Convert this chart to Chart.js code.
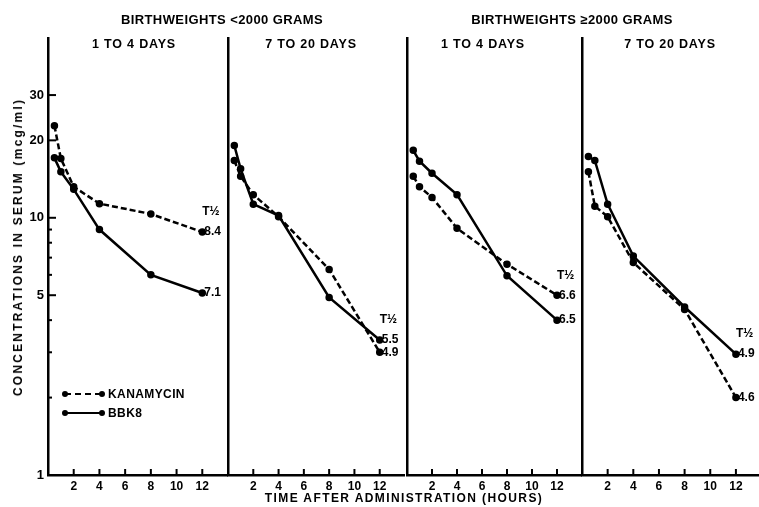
<!DOCTYPE html>
<html>
<head>
<meta charset="utf-8">
<script src="https://cdn.jsdelivr.net/npm/chart.js@4.4.1/dist/chart.umd.min.js"></script>
<style>
  html, body { margin: 0; padding: 0; background: #fff; }
  body { width: 759px; height: 507px; position: relative; overflow: hidden;
         font-family: "Liberation Sans", Arial, sans-serif; font-weight: bold; color: #000; }
  canvas { position: absolute; top: 0; }
  .lbl { position: absolute; white-space: nowrap; transform: translateX(-50%); line-height: 1; }
  .grp { font-size: 13px; top: 13px; letter-spacing: 0.4px; }
  .sub { font-size: 12.5px; top: 38px; letter-spacing: 0.8px; }
  .ytitle { position: absolute; left: 18px; top: 247px; font-size: 12px; letter-spacing: 2.2px;
            white-space: nowrap; transform: translate(-50%, -50%) rotate(-90deg); }
  .xtitle { font-size: 12px; top: 492px; letter-spacing: 1.4px; }
  .leg { position: absolute; left: 62px; height: 14px; font-size: 12px; letter-spacing: 0.4px; }
  .leg .ln { position: absolute; left: 3px; top: 6px; width: 36px; border-top: 2.5px solid #000; }
  .leg .ln.dash { border-top-style: dashed; }
  .leg .dot { position: absolute; top: 4px; width: 6px; height: 6px; border-radius: 50%; background: #000; }
  .leg span.t { position: absolute; left: 46px; top: 0; }
</style>
</head>
<body>
<canvas id="p1"></canvas>
<canvas id="p2"></canvas>
<canvas id="p3"></canvas>
<canvas id="p4"></canvas>

<div class="lbl grp" style="left:222px">BIRTHWEIGHTS &lt;2000 GRAMS</div>
<div class="lbl grp" style="left:572px">BIRTHWEIGHTS ≥2000 GRAMS</div>
<div class="lbl sub" style="left:134px">1 TO 4 DAYS</div>
<div class="lbl sub" style="left:311px">7 TO 20 DAYS</div>
<div class="lbl sub" style="left:483px">1 TO 4 DAYS</div>
<div class="lbl sub" style="left:670px">7 TO 20 DAYS</div>
<div class="ytitle">CONCENTRATIONS IN SERUM (mcg/ml)</div>
<div class="lbl xtitle" style="left:404px">TIME AFTER ADMINISTRATION (HOURS)</div>

<div class="leg" style="top:387px">
  <div class="ln dash"></div><div class="dot" style="left:0"></div><div class="dot" style="left:37px"></div>
  <span class="t">KANAMYCIN</span>
</div>
<div class="leg" style="top:406px">
  <div class="ln"></div><div class="dot" style="left:0"></div><div class="dot" style="left:37px"></div>
  <span class="t">BBK8</span>
</div>

<script>
// hours after administration (same sampling in every panel)
const hours = [0.5, 1, 2, 4, 8, 12];

// serum concentrations, mcg/ml  (panels: <2000g 1-4d, <2000g 7-20d, >=2000g 1-4d, >=2000g 7-20d)
const kanamycin1 = [22.8, 17.0, 13.2, 11.35, 10.35, 8.8];
const kanamycin2 = [16.7, 14.5, 12.3, 10.1, 6.3, 3.0];
const kanamycin3 = [14.5, 13.2, 12.0, 9.1, 6.6, 5.0];
const kanamycin4 = [15.1, 11.1, 10.1, 6.7, 4.4, 2.0];

const bbk8_1 = [17.1, 15.1, 12.9, 9.0, 6.0, 5.1];
const bbk8_2 = [19.1, 15.5, 11.3, 10.2, 4.9, 3.35];
const bbk8_3 = [18.3, 16.6, 14.9, 12.3, 5.95, 4.0];
const bbk8_4 = [17.3, 16.7, 11.3, 7.1, 4.5, 2.95];

// half-life labels at the end of each curve [kanamycin, bbk8]
const halfLife1 = ['8.4', '7.1'];
const halfLife2 = ['4.9', '5.5'];
const halfLife3 = ['6.6', '6.5'];
const halfLife4 = ['4.6', '4.9'];

const xTicks = [2, 4, 6, 8, 10, 12];
const yTicks = [1, 2, 3, 4, 5, 6, 7, 8, 9, 10, 20, 30];
const yLabels = [1, 5, 10, 20, 30];

const FONT = '"Liberation Sans", Arial, sans-serif';

// tick marks pointing into the plot, like the original
const innerTicks = {
    id: 'innerTicks',
    afterDraw(chart, args, opts) {
        const ctx = chart.ctx, area = chart.chartArea;
        ctx.save();
        ctx.strokeStyle = '#000';
        ctx.lineWidth = 2;
        const xs = chart.scales.x;
        xs.ticks.forEach(t => {
            const px = xs.getPixelForValue(t.value);
            ctx.beginPath();
            ctx.moveTo(px, area.bottom);
            ctx.lineTo(px, area.bottom - 6);
            ctx.stroke();
        });
        if (opts.yTicks) {
            const ys = chart.scales.y;
            ys.ticks.forEach(t => {
                const py = ys.getPixelForValue(t.value);
                const len = yLabels.includes(t.value) ? 8 : 4;
                ctx.beginPath();
                ctx.moveTo(area.left, py);
                ctx.lineTo(area.left + len, py);
                ctx.stroke();
            });
        }
        ctx.restore();
    }
};

// T½ values written at the last point of each curve
const endLabels = {
    id: 'endLabels',
    afterDatasetsDraw(chart, args, opts) {
        const ctx = chart.ctx;
        ctx.save();
        ctx.font = 'bold 12px ' + FONT;
        ctx.fillStyle = '#000';
        ctx.textBaseline = 'middle';
        let topY = Infinity, topX = 0;
        chart.data.datasets.forEach((ds, i) => {
            const pts = chart.getDatasetMeta(i).data;
            const last = pts[pts.length - 1];
            ctx.fillText(opts.labels[i], last.x + 2, last.y);
            if (last.y < topY) { topY = last.y; topX = last.x; }
        });
        ctx.fillText('T½', topX, topY - 20);
        ctx.restore();
    }
};

function makePanel(id, left, width, axisW, xMax, kan, bbk, tLabels, showY) {
    const cv = document.getElementById(id);
    cv.width = width;
    cv.height = 507;
    cv.style.left = left + 'px';
    cv.style.width = width + 'px';
    cv.style.height = '507px';

    return new Chart(cv.getContext('2d'), {
        type: 'line',
        data: {
            labels: hours,
            datasets: [{
                label: 'KANAMYCIN',
                data: hours.map((h, i) => ({ x: h, y: kan[i] })),
                borderColor: '#000',
                borderWidth: 2.5,
                borderDash: [6, 3],
                pointBackgroundColor: '#000',
                pointBorderColor: '#000',
                pointRadius: 2.5,
                tension: 0
            }, {
                label: 'BBK8',
                data: hours.map((h, i) => ({ x: h, y: bbk[i] })),
                borderColor: '#000',
                borderWidth: 2.5,
                pointBackgroundColor: '#000',
                pointBorderColor: '#000',
                pointRadius: 2.5,
                tension: 0
            }]
        },
        options: {
            responsive: false,
            animation: false,
            devicePixelRatio: 1,
            layout: { autoPadding: false, padding: { top: 38, right: 0, left: 0, bottom: 0 } },
            plugins: {
                legend: { display: false },
                tooltip: { enabled: false },
                innerTicks: { yTicks: showY },
                endLabels: { labels: tLabels }
            },
            scales: {
                x: {
                    type: 'linear',
                    min: 0,
                    max: xMax,
                    afterBuildTicks: s => { s.ticks = xTicks.map(v => ({ value: v })); },
                    afterFit: s => { s.height = 32; s.paddingLeft = 0; s.paddingRight = 0; },
                    grid: { display: false, drawTicks: false },
                    border: { display: true, color: '#000', width: 2.5 },
                    ticks: {
                        color: '#000',
                        padding: 4,
                        maxRotation: 0,
                        font: { family: FONT, weight: 'bold', size: 12 }
                    }
                },
                y: {
                    type: 'logarithmic',
                    min: 1,
                    max: 50,
                    afterBuildTicks: s => { s.ticks = yTicks.map(v => ({ value: v })); },
                    afterFit: s => { s.width = axisW; },
                    grid: { display: false, drawTicks: false },
                    border: { display: true, color: '#000', width: 2.5 },
                    ticks: {
                        display: showY,
                        color: '#000',
                        padding: 4,
                        autoSkip: false,
                        font: { family: FONT, weight: 'bold', size: 13 },
                        callback: v => yLabels.includes(v) ? String(v) : ''
                    }
                }
            }
        },
        plugins: [innerTicks, endLabels]
    });
}

makePanel('p1', 0, 228, 48, 14, kanamycin1, bbk8_1, halfLife1, true);
makePanel('p2', 218, 187, 10, 14, kanamycin2, bbk8_2, halfLife2, false);
makePanel('p3', 397, 185, 10, 14, kanamycin3, bbk8_3, halfLife3, false);
makePanel('p4', 572, 187, 10, 13.8, kanamycin4, bbk8_4, halfLife4, false);
</script>
</body>
</html>
